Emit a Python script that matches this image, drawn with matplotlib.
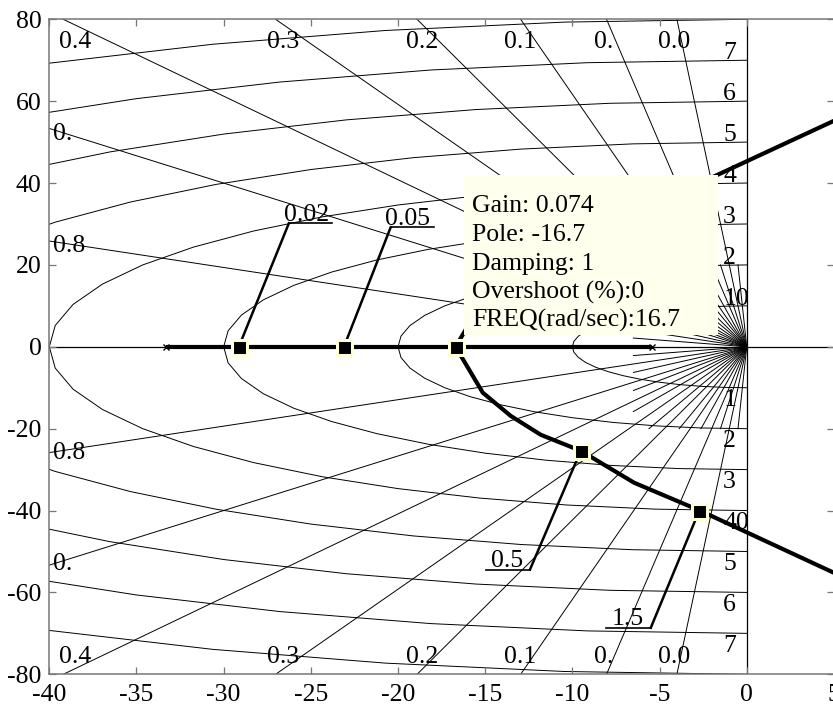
import numpy as np
import matplotlib
matplotlib.use("Agg")
import matplotlib.pyplot as plt
from matplotlib.patches import Rectangle

plt.rcParams['font.family'] = ['Liberation Serif', 'DejaVu Serif']
plt.rcParams['axes.unicode_minus'] = False

# ---------------- data ----------------
zeta_main = [0.84, 0.6, 0.44, 0.32, 0.23, 0.16, 0.1, 0.05]
zeta_short = [0.95, 0.72, 0.52, 0.38, 0.27, 0.19, 0.13, 0.075, 0.025]
wn_circles = [10, 20, 30, 40, 50, 60, 70, 80]
zeta_top_labels = ["0.4", "0.3", "0.2", "0.1", "0.", "0.0"]
zeta_left_labels = ["0.", "0.8"]
wn_labels_upper = ["10", "2", "3", "4", "5", "6", "7"]
wn_labels_lower = ["1", "2", "3", "40", "5", "6", "7"]

open_loop_poles = [-33.3, -5.45]
real_locus_x = [-33.3, -5.45]
branch_x = [-16.7, -15.14, -13.53, -11.81, -9.52, -6.46, -2.69, 5.0]
branch_y = [0.0, -11.2, -16.9, -21.5, -25.4, -33.2, -40.0, -55.2]

gain_values = ["0.02", "0.05", "0.5", "1.5"]
gain_x = [-29.13, -23.1, -9.52, -2.72]
gain_y = [0.0, 0.0, -25.4, -40.0]
tip_x, tip_y = -16.7, 0.0
tip_lines = ["Gain: 0.074", "Pole: -16.7", "Damping: 1",
             "Overshoot (%):0", "FREQ(rad/sec):16.7"]

xticks = list(range(-40, 6, 5))
yticks = list(range(-80, 81, 20))

# ---------------- layout (label positions) ----------------
top_label_x = [-39.43, -27.54, -19.56, -13.94, -8.77, -5.1]
top_label_y = 73.0
left_label_x = -39.77
left_label_y = [50.4, 23.2]
wn_label_x = -1.35
gain_anchor = [(-26.26, 30.17, 'left'), (-20.42, 29.2, 'left'),
               (-12.43, -54.4, 'right'), (-5.5, -68.6, 'right')]
box_x0, box_x1, box_y0, box_y1 = -16.23, -1.65, 2.93, 41.95
tip_text_x = -15.75
tip_text_y = [33.05, 25.95, 18.85, 11.9, 4.95]
short_x_lim, short_y_lim = 6.5, 20.0

FS = 18.5
GRID_LW = 0.7
fig = plt.figure(figsize=(8.33, 7.11), dpi=100)
ax = fig.add_axes([49.3 / 833, 36.7 / 711, 784.6 / 833, 655.0 / 711])
ax.set_xlim(-40, 5)
ax.set_ylim(-80, 80)

# natural-frequency circles
theta = np.deg2rad(np.arange(-90, 90.01, 7.5))
for r in wn_circles:
    ax.plot(-r * np.cos(theta), r * np.sin(theta), color='k', lw=GRID_LW, zorder=1)

# damping lines
R = 400.0
for z in zeta_main:
    s = np.sqrt(1 - z * z)
    ax.plot([0, -R * z], [0, R * s], color='k', lw=GRID_LW, zorder=1)
    ax.plot([0, -R * z], [0, -R * s], color='k', lw=GRID_LW, zorder=1)
for z in zeta_short:
    s = np.sqrt(1 - z * z)
    t = min(short_x_lim / z, short_y_lim / s)
    ax.plot([0, -t * z], [0, t * s], color='k', lw=GRID_LW, zorder=1)
    ax.plot([0, -t * z], [0, -t * s], color='k', lw=GRID_LW, zorder=1)

# axes lines
ax.axhline(0, color='k', lw=0.9, zorder=1)
ax.axvline(0, color='k', lw=0.9, zorder=1)

# damping labels
for lx, t in zip(top_label_x, zeta_top_labels):
    ax.text(lx, top_label_y, t, fontsize=FS, ha='left', va='baseline', zorder=2)
    ax.text(lx, -top_label_y, t, fontsize=FS, ha='left', va='top', zorder=2)
for ly, t in zip(left_label_y, zeta_left_labels):
    ax.text(left_label_x, ly, t, fontsize=FS, ha='left', va='baseline', zorder=2)
    ax.text(left_label_x, -ly, t, fontsize=FS, ha='left', va='top', zorder=2)

# natural frequency labels
for r, tu, tl in zip(wn_circles, wn_labels_upper, wn_labels_lower):
    ax.text(wn_label_x, r + 0.3, tu, fontsize=FS, ha='left', va='baseline', zorder=2)
    ax.text(wn_label_x, -r - 0.4, tl, fontsize=FS, ha='left', va='top', zorder=2)

# root locus
ax.plot(real_locus_x, [0, 0], color='k', lw=3.0, zorder=3, solid_capstyle='butt')
bx = np.array(branch_x)
by = np.array(branch_y)
ax.plot(bx, by, color='k', lw=3.0, zorder=3)
ax.plot(bx, -by, color='k', lw=3.0, zorder=3)
ax.plot(open_loop_poles, [0, 0], linestyle='none', marker='x', ms=5, mew=1.0,
        color='k', zorder=3)

# gain annotations
for (gx, gy, lab, (axx, ayy, side)) in zip(gain_x, gain_y, gain_values, gain_anchor):
    ax.plot([gx, axx], [gy, ayy], color='k', lw=1.8, zorder=4)
    if side == 'left':
        ax.plot([axx, axx + 2.5], [ayy, ayy], color='k', lw=1.2, zorder=4)
        ax.text(axx - 0.3, ayy + 0.5, lab, fontsize=FS, ha='left', va='baseline', zorder=4)
    else:
        ax.plot([axx - 2.55, axx], [ayy, ayy], color='k', lw=1.2, zorder=4)
        ax.text(axx - 0.4, ayy + 0.7, lab, fontsize=FS, ha='right', va='baseline', zorder=4)

ax.plot(gain_x + [tip_x], gain_y + [tip_y], linestyle='none', marker='s', ms=10.8,
        mfc='k', mec='#FFFFD8', mew=2.2, zorder=5)

# tooltip box
ax.add_patch(Rectangle((box_x0, box_y0), box_x1 - box_x0, box_y1 - box_y0,
                       facecolor='#FFFFEE', edgecolor='none', zorder=6))
for ty, t in zip(tip_text_y, tip_lines):
    ax.text(tip_text_x, ty, t, fontsize=FS, ha='left', va='baseline', zorder=7)

# axes styling
ax.set_xticks(xticks)
ax.set_yticks(yticks)
ax.set_xticklabels([str(v) for v in xticks])
ax.set_yticklabels([str(v) for v in yticks])
ax.tick_params(direction='in', length=5, width=0.9, colors='#777777',
               labelcolor='k', labelsize=FS, top=True, right=True)
ax.tick_params(axis='x', pad=7)
ax.tick_params(axis='y', pad=5.5)
for sp in ['left', 'bottom', 'top']:
    ax.spines[sp].set_color('#777777')
    ax.spines[sp].set_linewidth(1.1)
ax.spines['right'].set_visible(False)

fig.savefig('out.png', dpi=100)
